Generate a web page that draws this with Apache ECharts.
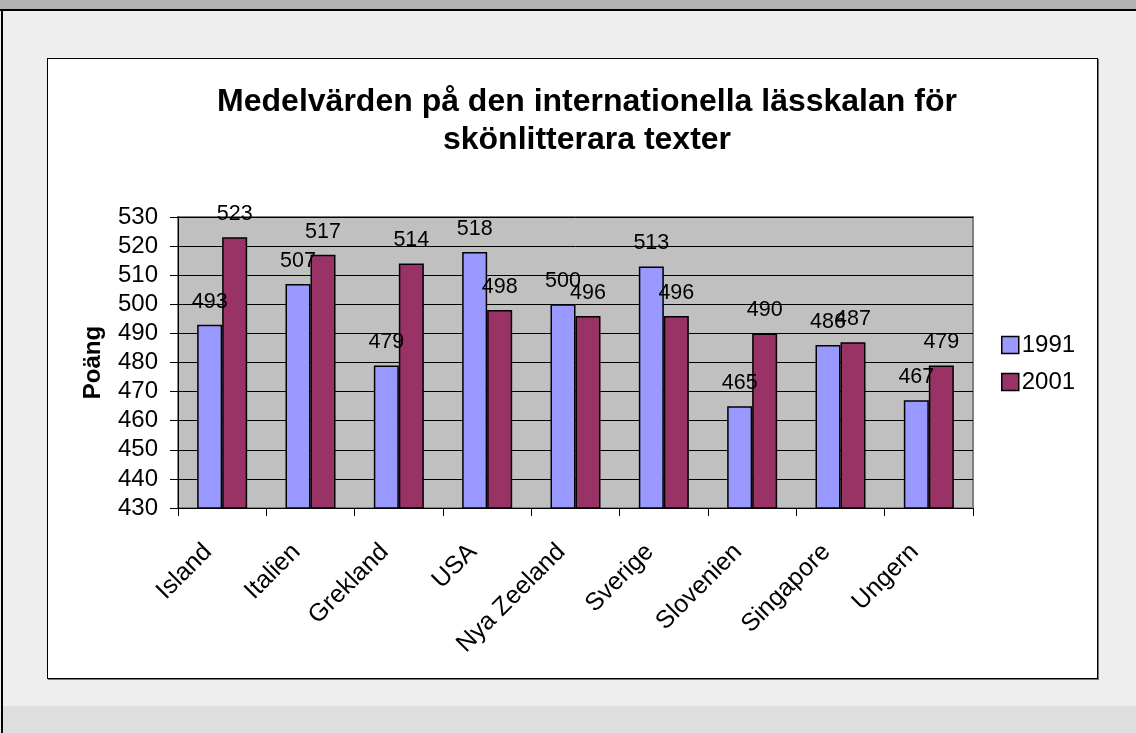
<!DOCTYPE html>
<html>
<head>
<meta charset="utf-8">
<script src="https://cdn.jsdelivr.net/npm/echarts@6/dist/echarts.min.js"></script>
<style>
html,body{margin:0;padding:0;width:1136px;height:733px;overflow:hidden;background:#eeeeee;}
#topbar{position:absolute;left:0;top:0;width:1136px;height:9px;background:#b2b2b2;border-bottom:2px solid #000;}
#leftline{position:absolute;left:1px;top:9px;width:2px;height:724px;background:#000;}
#bottomband{position:absolute;left:3px;top:706px;width:1133px;height:27px;background:#dedede;}
#box{position:absolute;left:47px;top:58px;width:1049px;height:619px;background:#fff;border:1.5px solid #000;box-shadow:1px 1px 0 #777;}
#chart{position:absolute;left:0;top:0;width:1136px;height:733px;}
</style>
</head>
<body>
<div id="topbar"></div>
<div id="leftline"></div>
<div id="bottomband"></div>
<div id="box"></div>
<div id="chart"></div>
<script>
const categories = ['Island','Italien','Grekland','USA','Nya Zeeland','Sverige','Slovenien','Singapore','Ungern'];
const values1991 = [493,507,479,518,500,513,465,486,467];
const values2001 = [523,517,514,498,496,496,490,487,479];
const seriesNames = ['1991','2001'];
const titleText = 'Medelvärden på den internationella lässkalan för\nskönlitterara texter';
const yAxisName = 'Poäng';

const chart = echarts.init(document.getElementById('chart'), null, {renderer:'canvas'});
const font = 'Liberation Sans, Arial, sans-serif';
const labelStyle = {show:true, position:'top', distance:12, color:'#000', fontSize:21.5, fontFamily:font};
chart.setOption({
  backgroundColor:'transparent',
  animation:false,
  title:{
    text:titleText, left:582, top:78, textAlign:'center',
    textStyle:{fontFamily:font, fontWeight:'bold', fontSize:32, lineHeight:38, color:'#000'}
  },
  legend:{
    orient:'vertical', left:996, top:328, itemWidth:17, itemHeight:17, itemGap:13,
    textStyle:{fontFamily:font, fontSize:24, color:'#000', padding:[0,0,0,-2]},
    icon:'rect',
    itemStyle:{borderColor:'#000', borderWidth:1.5},
    data:seriesNames
  },
  grid:{left:178, right:163, top:217, bottom:225, show:true, backgroundColor:'#c0c0c0', borderColor:'#808080', borderWidth:2},
  xAxis:{
    type:'category', data:categories,
    axisLine:{show:true, lineStyle:{color:'#000', width:1}},
    axisTick:{show:true, length:8, lineStyle:{color:'#000'}},
    axisLabel:{rotate:45, margin:26, padding:[0,20,0,0], color:'#000', fontSize:25, fontFamily:font, interval:0}
  },
  yAxis:{
    type:'value', min:430, max:530, interval:10,
    name:yAxisName, nameLocation:'middle', nameGap:73, nameRotate:90,
    nameTextStyle:{fontFamily:font, fontWeight:'bold', fontSize:24, color:'#000'},
    axisLine:{show:true, lineStyle:{color:'#000', width:1}},
    axisTick:{show:true, length:8, lineStyle:{color:'#000'}},
    axisLabel:{margin:20, color:'#000', fontSize:24, fontFamily:font},
    splitLine:{show:true, lineStyle:{color:'#000', width:1}}
  },
  series:[
    {name:seriesNames[0], type:'bar', data:values1991, barWidth:25, barGap:'0%',
     itemStyle:{color:'#9999ff', borderColor:'#000', borderWidth:1.5}, label:labelStyle},
    {name:seriesNames[1], type:'bar', data:values2001, barWidth:25, barGap:'0%',
     itemStyle:{color:'#993366', borderColor:'#000', borderWidth:1.5}, label:labelStyle}
  ]
});
</script>
</body>
</html>
